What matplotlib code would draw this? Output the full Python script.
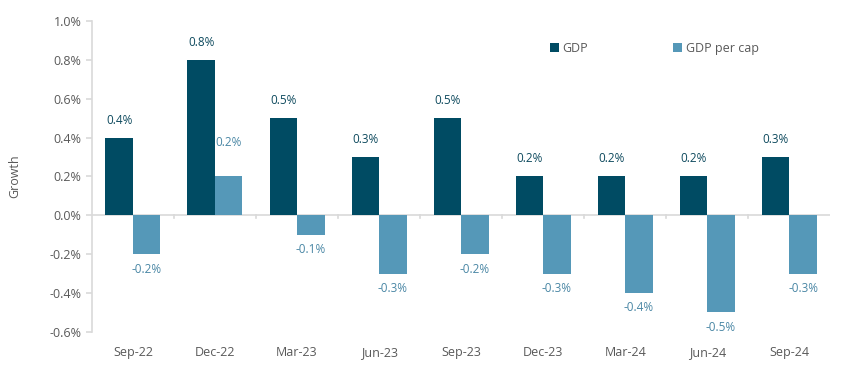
import numpy as np
import matplotlib.pyplot as plt
from matplotlib.ticker import FuncFormatter

plt.rcParams['font.family'] = ['Open Sans', 'DejaVu Sans']

quarters = ['Sep-22', 'Dec-22', 'Mar-23', 'Jun-23', 'Sep-23', 'Dec-23', 'Mar-24', 'Jun-24', 'Sep-24']
gdp = [0.4, 0.8, 0.5, 0.3, 0.5, 0.2, 0.2, 0.2, 0.3]
gdp_per_cap = [-0.2, 0.2, -0.1, -0.3, -0.2, -0.3, -0.4, -0.5, -0.3]

dark = '#004B63'
light = '#5598B8'
grey = '#595959'
axis_grey = '#D9D9D9'

fig = plt.figure(figsize=(8.43, 3.70), dpi=100)
ax = fig.add_axes([0.109, 0.103, 0.876, 0.84])

x = np.arange(len(quarters))
w = 0.335
ax.bar(x - w/2, gdp, w, color=dark, label='GDP')
ax.bar(x + w/2, gdp_per_cap, w, color=light, label='GDP per cap')

for xi, v in zip(x, gdp):
    ax.annotate(f'{v:.1f}%', (xi - w/2, v), xytext=(0, 8), textcoords='offset points',
                ha='center', va='bottom', fontsize=8.5, color='#0E4A5E')
for xi, v in zip(x, gdp_per_cap):
    if v >= 0:
        off, va = (0, 20), 'bottom'
    else:
        off, va = (0, -6), 'top'
    ax.annotate(f'{v:.1f}%', (xi + w/2, v), xytext=off, textcoords='offset points',
                ha='center', va=va, fontsize=8.5, color='#4A87A5')

ax.set_xlim(-0.5, len(quarters) - 0.5)
ax.set_ylim(-0.6, 1.0)
ax.set_yticks(np.arange(-0.6, 1.01, 0.2))
ax.yaxis.set_major_formatter(FuncFormatter(lambda v, p: f'{v:.1f}%'))

for s in ['top', 'right', 'bottom']:
    ax.spines[s].set_visible(False)
ax.spines['left'].set_color(axis_grey)
ax.spines['left'].set_linewidth(1.2)
ax.axhline(0, color=axis_grey, lw=1.2, zorder=0)

# category boundary ticks on the zero line
for b in np.arange(0.5, len(quarters) - 0.5, 1):
    ax.plot([b, b], [0, -0.012], color=axis_grey, lw=1.2, clip_on=False)

ax.set_xticks(x)
ax.set_xticklabels(quarters)
ax.tick_params(axis='x', length=0, pad=10, labelsize=9, colors=grey)
ax.tick_params(axis='y', length=4, color=axis_grey, width=1.2, labelsize=9, colors=grey)
ax.set_ylabel('Growth', fontsize=9, color=grey, labelpad=20)

ax.legend(loc='upper left', bbox_to_anchor=(0.605, 0.97), ncol=2, frameon=False,
          fontsize=9, handlelength=0.7, handleheight=0.7, handletextpad=0.3,
          columnspacing=6.8, labelcolor=grey)

fig.savefig('out.png', dpi=100)
